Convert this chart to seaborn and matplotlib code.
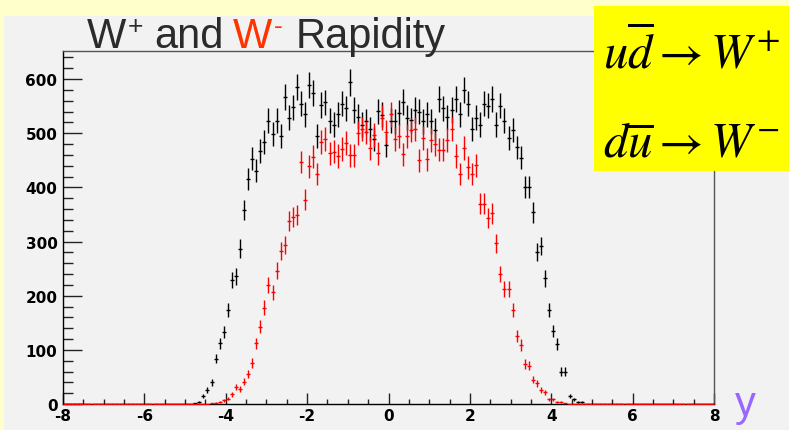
import numpy as np
import pandas as pd
import matplotlib
matplotlib.use("Agg")
import matplotlib.pyplot as plt
import seaborn as sns
from matplotlib.patches import Rectangle
from matplotlib.ticker import FixedLocator, FixedFormatter, MultipleLocator

# ---------------- data ----------------
# histogram: 160 bins of width 0.1 from -8 to 8; values listed for bins
# with centres -4.75 ... 4.75 (all other bins are empty)
bin_edges_range = (-8.0, 8.0)
n_bins = 160
first_filled_center = -4.75

w_plus = [
    1, 3, 14, 26, 40, 84, 112, 133, 174, 229,
    236, 287, 358, 415, 453, 431, 467, 484, 523, 498,
    523, 495, 567, 529, 548, 586, 555, 535, 589, 575,
    495, 552, 557, 523, 516, 535, 555, 546, 594, 543,
    531, 516, 522, 508, 489, 541, 534, 479, 523, 522,
    538, 558, 529, 524, 543, 540, 522, 535, 522, 506,
    564, 546, 530, 543, 563, 535, 580, 555, 508, 529,
    516, 555, 551, 563, 516, 551, 523, 492, 506, 474,
    455, 401, 401, 354, 281, 292, 232, 174, 135, 111,
    60, 60, 15, 9, 3, 3,
]
w_minus = [
    0, 0, 0, 0, 1, 2, 4, 7, 10, 18,
    31, 28, 41, 55, 76, 112, 143, 178, 220, 206,
    246, 283, 294, 338, 345, 349, 447, 377, 439, 457,
    425, 484, 490, 463, 466, 458, 471, 482, 459, 459,
    500, 508, 503, 472, 497, 463, 529, 503, 535, 489,
    495, 461, 495, 506, 508, 450, 492, 452, 487, 480,
    470, 470, 487, 508, 458, 425, 473, 437, 425, 441,
    370, 370, 343, 352, 297, 240, 212, 212, 174, 126,
    109, 74, 71, 45, 38, 26, 22, 9, 9, 3,
    3, 1, 0, 0, 0, 0,
]

x_ticks = [-8, -6, -4, -2, 0, 2, 4, 6, 8]
x_tick_labels = ["-8", "-6", "-4", "-2", "0", "2", "4", "6", "8"]
y_ticks = [0, 100, 200, 300, 400, 500, 600]
y_tick_labels = ["0", "100", "200", "300", "400", "500", "600"]

title_parts = ["W", "+", "and", "W", "-", "Rapidity"]
box_lines = [r"$u\overline{d}\rightarrow W^{+}$", r"$d\overline{u}\rightarrow W^{-}$"]
axis_label = "y"

# ---------------- build full histogram ----------------
width = (bin_edges_range[1] - bin_edges_range[0]) / n_bins
centers = bin_edges_range[0] + width * (np.arange(n_bins) + 0.5)
start = int(round((first_filled_center - centers[0]) / width))
full_plus = np.zeros(n_bins)
full_minus = np.zeros(n_bins)
full_plus[start:start + len(w_plus)] = w_plus
full_minus[start:start + len(w_minus)] = w_minus

df = pd.concat([
    pd.DataFrame({"rap": centers, "count": full_plus, "boson": "W+"}),
    pd.DataFrame({"rap": centers, "count": full_minus, "boson": "W-"}),
], ignore_index=True)

# ---------------- figure ----------------
sns.set_style("ticks")
plt.rcParams["font.family"] = ["DejaVu Sans"]
plt.rcParams["mathtext.fontset"] = "stix"

W, H = 789, 431
fig = plt.figure(figsize=(W / 100, H / 100), dpi=100)
fig.patch.set_facecolor("#ffffcc")
fig.add_artist(Rectangle((4 / W, 0), 1 - 4 / W, (H - 17) / H, transform=fig.transFigure,
                         facecolor="#f2f2f2", edgecolor="none", zorder=0))

ax = fig.add_axes([63 / W, 1 - 405 / H, (714 - 63) / W, (405 - 52) / H])
ax.set_facecolor("#f2f2f2")

colors = {"W+": "black", "W-": "#ff0000"}
for boson in ["W+", "W-"]:
    sub = df[df["boson"] == boson]
    ax.errorbar(sub["rap"], sub["count"], yerr=np.sqrt(sub["count"]), fmt="none",
                ecolor=colors[boson], elinewidth=1.0, capsize=0, zorder=3)
    sns.scatterplot(data=sub, x="rap", y="count", marker="_", s=9, linewidth=1.0,
                    color=colors[boson], edgecolor=colors[boson], ax=ax, legend=False, zorder=4)

ax.set_xlim(*bin_edges_range)
ax.set_ylim(0, 652)
ax.set_xlabel("")
ax.set_ylabel("")

ax.xaxis.set_major_locator(FixedLocator(x_ticks))
ax.xaxis.set_major_formatter(FixedFormatter(x_tick_labels))
ax.xaxis.set_minor_locator(MultipleLocator(0.5))
ax.yaxis.set_major_locator(FixedLocator(y_ticks))
ax.yaxis.set_major_formatter(FixedFormatter(y_tick_labels))
ax.yaxis.set_minor_locator(MultipleLocator(20))

ax.tick_params(axis="y", which="major", direction="in", length=14, width=1, color="#222222", pad=4)
ax.tick_params(axis="y", which="minor", direction="in", length=7, width=1, color="#222222")
ax.tick_params(axis="x", which="major", direction="in", length=7.6, width=1, color="#222222", pad=3)
ax.tick_params(axis="x", which="minor", direction="in", length=3.8, width=1, color="#222222")
for lab in ax.get_xticklabels() + ax.get_yticklabels():
    lab.set_fontweight("bold")
    lab.set_fontsize(11)
    lab.set_color("black")

for side in ["left", "bottom"]:
    ax.spines[side].set_color("black")
    ax.spines[side].set_linewidth(1)
for side in ["top", "right"]:
    ax.spines[side].set_visible(True)
    ax.spines[side].set_color("#555555")
    ax.spines[side].set_linewidth(1)

def px(x, y):
    return x / W, 1 - y / H

# title pieces
tfont = dict(family="Liberation Sans", fontsize=30)
sfont = dict(family="Liberation Sans", fontsize=19)
gray, red = "#2b2b2b", "#ff3300"
fig.text(*px(87, 48), title_parts[0], color=gray, va="baseline", ha="left", **tfont)
fig.text(*px(128, 34), title_parts[1], color=gray, va="baseline", ha="left", **sfont)
fig.text(*px(154, 48), title_parts[2], color=gray, va="baseline", ha="left", **tfont)
fig.text(*px(233, 48), title_parts[3], color=red, va="baseline", ha="left", **tfont)
fig.text(*px(274, 34), title_parts[4], color=red, va="baseline", ha="left", **sfont)
fig.text(*px(296, 48), title_parts[5], color=gray, va="baseline", ha="left", **tfont)

# yellow box
fig.add_artist(Rectangle((594 / W, 1 - 172 / H), (W - 594) / W, (172 - 7) / H,
                         transform=fig.transFigure, facecolor="#ffff00", edgecolor="none", zorder=5))
fig.text(*px(603, 68), box_lines[0], fontsize=35, color="black", va="baseline", ha="left", zorder=6)
fig.text(*px(603, 157), box_lines[1], fontsize=35, color="black", va="baseline", ha="left", zorder=6)

# axis label
fig.text(*px(745, 416), axis_label, family="Liberation Sans", fontsize=30, color="#9966ff",
         va="baseline", ha="center")

fig.savefig("out.png", dpi=100, facecolor=fig.get_facecolor())
